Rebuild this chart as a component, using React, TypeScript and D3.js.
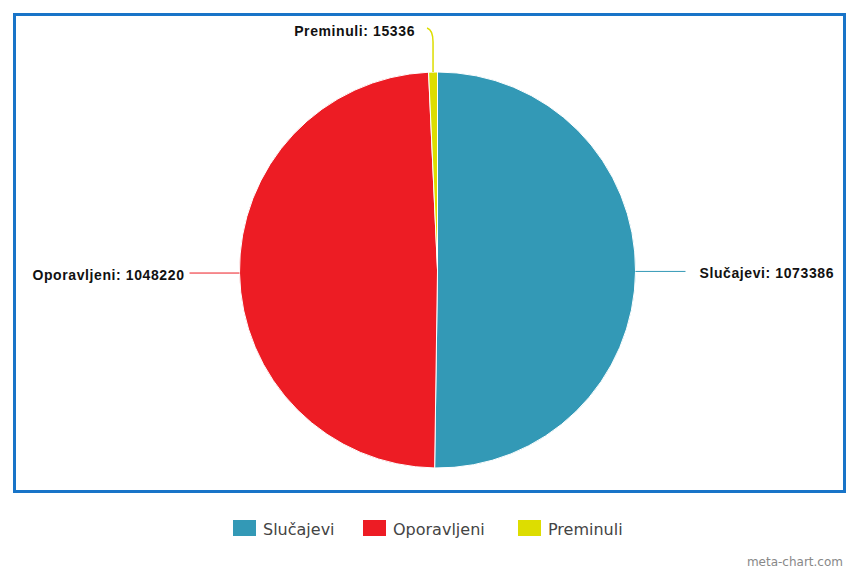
import React from "react";
import * as d3 from "d3";

const categories = ["Slučajevi", "Oporavljeni", "Preminuli"];
const values = [1073386, 1048220, 15336];
const colors = ["#3399b6", "#ed1c24", "#dddd00"];

const W = 859;
const H = 573;
const cx = 437.5;
const cy = 270;
const R = 198;

export default function App() {
  const pie = d3.pie<number>().sort(null).value((d) => d);
  const arcs = pie(values);
  const arc = d3.arc<d3.PieArcDatum<number>>().innerRadius(0).outerRadius(R);

  const legendX = [233, 363, 518];
  const labelFont = {
    fontFamily: "Liberation Sans, Arial, sans-serif",
    fontWeight: "bold" as const,
    fontSize: 14,
    letterSpacing: 0.6,
    fill: "#111",
  };

  return (
    <svg width={W} height={H} style={{ position: "absolute", left: 0, top: 0 }}>
      <rect x={0} y={0} width={W} height={H} fill="#fff" />
      <rect x={14.5} y={14.5} width={830} height={477} fill="none" stroke="#1874c8" strokeWidth={3} />
      <g transform={`translate(${cx},${cy})`}>
        {arcs.map((a, i) => (
          <path key={i} d={arc(a) || ""} fill={colors[i]} stroke="#fff" strokeWidth={1} />
        ))}
        {arcs.map((a, i) => {
          const mid = (a.startAngle + a.endAngle) / 2;
          const px = R * Math.sin(mid);
          const py = -R * Math.cos(mid);
          const label = `${categories[i]}: ${values[i]}`;
          if (i === 2) {
            const path = `M${px},${py} L${px},${py - 30} Q${px},${py - 42} ${px - 6},${py - 44}`;
            return (
              <g key={i}>
                <path d={path} fill="none" stroke={colors[i]} strokeWidth={1.5} />
                <text x={px - 18} y={py - 36} textAnchor="end" {...labelFont}>
                  {label}
                </text>
              </g>
            );
          }
          const right = px > 0;
          const x2 = right ? px + 50 : px - 50;
          return (
            <g key={i}>
              <line x1={px} y1={py} x2={x2} y2={py} stroke={colors[i]} strokeWidth={1} />
              <text x={right ? x2 + 14 : x2 - 5} y={py + 7} textAnchor={right ? "start" : "end"} {...labelFont}>
                {label}
              </text>
            </g>
          );
        })}
      </g>
      {categories.map((c, i) => (
        <g key={c}>
          <rect x={legendX[i]} y={520} width={23} height={16} fill={colors[i]} />
          <text x={legendX[i] + 30} y={535} fontFamily="DejaVu Sans, Verdana, sans-serif" fontSize={16} fill="#444">
            {c}
          </text>
        </g>
      ))}
      <text x={843} y={566} textAnchor="end" fontFamily="DejaVu Sans, Verdana, sans-serif" fontSize={12} fill="#888">
        meta-chart.com
      </text>
    </svg>
  );
}
